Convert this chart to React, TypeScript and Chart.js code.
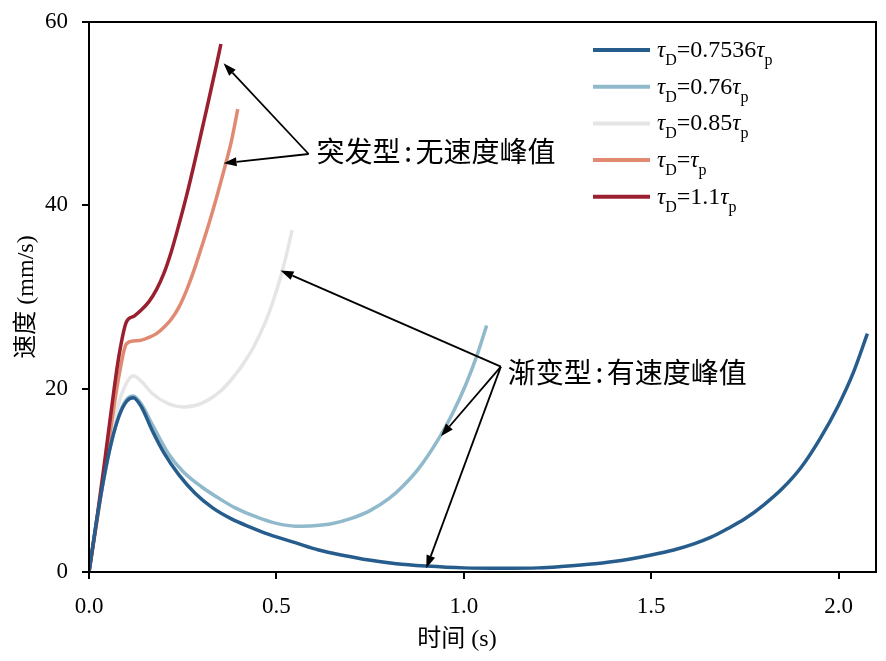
import { useEffect, useRef } from 'react';
import { Chart, registerables } from 'chart.js';

Chart.register(...registerables);

// τD = 0.7536τp
const time7536 = [0, 0.02, 0.04, 0.06, 0.08, 0.1, 0.118, 0.14, 0.168, 0.2, 0.24, 0.283, 0.33, 0.38, 0.43, 0.48, 0.55, 0.613, 0.68, 0.747, 0.82, 0.9, 1.0, 1.1, 1.2, 1.26, 1.35, 1.42, 1.5, 1.56, 1.616, 1.66, 1.705, 1.75, 1.8, 1.85, 1.9, 1.95, 2.0, 2.04, 2.077];
const speed7536 = [0, 5.5, 10.3, 14.2, 17, 18.6, 19.0, 18.0, 15.5, 13.0, 10.6, 8.6, 7.0, 5.8, 4.9, 4.1, 3.2, 2.4, 1.8, 1.3, 0.9, 0.65, 0.45, 0.4, 0.45, 0.6, 0.9, 1.25, 1.85, 2.4, 3.1, 3.8, 4.75, 5.8, 7.3, 9.1, 11.4, 14.5, 18.2, 21.8, 26.0];

// τD = 0.76τp
const time76 = [0, 0.02, 0.04, 0.06, 0.08, 0.1, 0.118, 0.14, 0.17, 0.212, 0.25, 0.3, 0.35, 0.39, 0.45, 0.5, 0.551, 0.6, 0.65, 0.7, 0.75, 0.8, 0.836, 0.88, 0.934, 0.97, 1.005, 1.035, 1.061];
const speed76 = [0, 5.5, 10.3, 14.2, 17.1, 18.8, 19.2, 18.3, 16.0, 12.9, 11.0, 9.3, 7.95, 7.0, 5.95, 5.3, 5.0, 5.05, 5.3, 5.85, 6.7, 8.0, 9.3, 11.3, 14.6, 17.3, 20.4, 23.6, 26.9];

// τD = 0.85τp
const time85 = [0, 0.02, 0.04, 0.06, 0.08, 0.1, 0.118, 0.14, 0.168, 0.21, 0.254, 0.3, 0.35, 0.38, 0.41, 0.44, 0.47, 0.49, 0.51, 0.525, 0.542];
const speed85 = [0, 5.3, 10.6, 15.0, 18.5, 20.6, 21.4, 20.8, 19.5, 18.4, 18.0, 18.4, 19.7, 21.0, 22.6, 24.6, 27.2, 29.4, 32.0, 34.3, 37.3];

// τD = τp
const time100 = [0, 0.02, 0.04, 0.06, 0.08, 0.1, 0.12, 0.14, 0.16, 0.18, 0.2, 0.22, 0.24, 0.26, 0.28, 0.3, 0.32, 0.34, 0.36, 0.38, 0.397];
const speed100 = [0, 5.2, 10.7, 16.2, 21.4, 24.9, 25.2, 25.3, 25.6, 26.0, 26.7, 27.6, 28.9, 30.7, 32.9, 35.4, 38.0, 40.8, 43.8, 47.0, 50.5];

// τD = 1.1τp
const time110 = [0, 0.02, 0.04, 0.06, 0.08, 0.1, 0.12, 0.14, 0.16, 0.18, 0.2, 0.22, 0.24, 0.26, 0.28, 0.3, 0.32, 0.34, 0.352];
const speed110 = [0, 5.5, 11.5, 17.8, 23.6, 27.3, 27.9, 28.6, 29.5, 30.8, 32.6, 35.0, 37.9, 41.0, 44.4, 48.0, 51.6, 55.3, 57.6];

const legendCoefs = ['0.7536', '0.76', '0.85', '', '1.1'];
const seriesColors = ['#265d8c', '#91b9cc', '#e6e4e4', '#e08a72', '#9a2030'];

const xTicks = [0, 0.5, 1.0, 1.5, 2.0];
const yTicks = [0, 20, 40, 60];

// annotation anchors in data units: [time, speed]
const burstLabel = '突发型:无速度峰值';
const burstFrom = [0.586, 45.6];
const burstTips = [[0.359, 55.5], [0.359, 44.6]];
const gradualLabel = '渐变型:有速度峰值';
const gradualFrom = [1.099, 22.4];
const gradualTips = [[0.511, 32.9], [0.939, 14.8], [0.9, 0.4]];

const toPoints = (t: number[], v: number[]) => t.map((x, i) => ({ x, y: v[i] }));

function drawArrow(ctx: CanvasRenderingContext2D, x0: number, y0: number, x1: number, y1: number) {
  const ang = Math.atan2(y1 - y0, x1 - x0);
  const hl = 13;
  const hw = 4.5;
  const bx = x1 - hl * Math.cos(ang);
  const by = y1 - hl * Math.sin(ang);
  ctx.beginPath();
  ctx.moveTo(x0, y0);
  ctx.lineTo(bx, by);
  ctx.stroke();
  ctx.beginPath();
  ctx.moveTo(x1, y1);
  ctx.lineTo(bx + hw * Math.sin(ang), by - hw * Math.cos(ang));
  ctx.lineTo(bx - hw * Math.sin(ang), by + hw * Math.cos(ang));
  ctx.closePath();
  ctx.fill();
}

function drawCjkLabel(ctx: CanvasRenderingContext2D, text: string, x: number, y: number) {
  const [a, b] = text.split(':');
  ctx.font = '28px "Noto Sans CJK SC"';
  ctx.textAlign = 'left';
  ctx.textBaseline = 'middle';
  ctx.fillText(a, x, y);
  let cx = x + ctx.measureText(a).width;
  const slot = 15;
  const cw = ctx.measureText(':').width;
  ctx.fillText(':', cx + (slot - cw) / 2, y);
  cx += slot;
  ctx.fillText(b, cx, y);
}

function drawTau(ctx: CanvasRenderingContext2D, x: number, base: number, sub: string) {
  ctx.font = 'italic 23px "Liberation Serif"';
  ctx.fillText('τ', x, base);
  x += ctx.measureText('τ').width;
  ctx.font = '16px "Liberation Serif"';
  ctx.fillText(sub, x, base + 8);
  return x + ctx.measureText(sub).width;
}

const overlay = {
  id: 'overlay',
  afterDraw(chart: Chart) {
    const { ctx, chartArea } = chart;
    const xs = chart.scales.x;
    const ys = chart.scales.y;
    const px = (p: number[]) => [xs.getPixelForValue(p[0]), ys.getPixelForValue(p[1])];
    ctx.save();

    // frame
    ctx.strokeStyle = '#000';
    ctx.lineWidth = 2;
    ctx.strokeRect(chartArea.left, chartArea.top, chartArea.width, chartArea.height);

    // arrows
    ctx.fillStyle = '#000';
    ctx.lineWidth = 1.8;
    const [bfx, bfy] = px(burstFrom);
    burstTips.forEach((t) => {
      const [tx, ty] = px(t);
      drawArrow(ctx, bfx, bfy, tx, ty);
    });
    const [gfx, gfy] = px(gradualFrom);
    gradualTips.forEach((t) => {
      const [tx, ty] = px(t);
      drawArrow(ctx, gfx, gfy, tx, ty);
    });

    drawCjkLabel(ctx, burstLabel, bfx + 8, bfy - 3);
    drawCjkLabel(ctx, gradualLabel, gfx + 7, gfy + 6);

    // legend
    const lineX0 = chartArea.right - 283;
    const lineX1 = chartArea.right - 226;
    legendCoefs.forEach((c, i) => {
      const rowY = chartArea.top + 28 + i * 36.7;
      ctx.strokeStyle = seriesColors[i];
      ctx.lineWidth = 4;
      ctx.beginPath();
      ctx.moveTo(lineX0, rowY);
      ctx.lineTo(lineX1, rowY);
      ctx.stroke();
      ctx.fillStyle = '#000';
      ctx.textAlign = 'left';
      ctx.textBaseline = 'alphabetic';
      const base = rowY + 7;
      let x = drawTau(ctx, lineX1 + 7, base, 'D');
      ctx.font = '24px "Liberation Serif"';
      const mid = '=' + c;
      ctx.fillText(mid, x, base);
      x += ctx.measureText(mid).width;
      drawTau(ctx, x, base, 'p');
    });

    // axis titles
    ctx.fillStyle = '#000';
    ctx.font = '24px "Liberation Serif", "Noto Sans CJK SC"';
    ctx.textAlign = 'center';
    ctx.textBaseline = 'middle';
    ctx.fillText('时间 (s)', chartArea.left + 368, chartArea.bottom + 68);
    ctx.translate(19, (chartArea.top + chartArea.bottom) / 2);
    ctx.rotate(-Math.PI / 2);
    ctx.fillText('速度 (mm/s)', 0, 0);
    ctx.restore();
  },
};

const App = () => {
  const canvasRef = useRef<HTMLCanvasElement | null>(null);
  const chartRef = useRef<Chart | null>(null);

  useEffect(() => {
    if (chartRef.current) {
      chartRef.current.destroy();
    }
    if (!canvasRef.current) return;
    const ctx = canvasRef.current.getContext('2d');
    if (!ctx) return;

    const series = [
      toPoints(time7536, speed7536),
      toPoints(time76, speed76),
      toPoints(time85, speed85),
      toPoints(time100, speed100),
      toPoints(time110, speed110),
    ];

    chartRef.current = new Chart(ctx, {
      type: 'line',
      data: {
        datasets: series.map((data, i) => ({
          label: 'τD=' + legendCoefs[i] + 'τp',
          data,
          borderColor: seriesColors[i],
          borderWidth: 3.5,
          pointRadius: 0,
          fill: false,
          cubicInterpolationMode: 'monotone' as const,
          order: i === 0 ? 0 : 5 - i,
        })),
      },
      options: {
        animation: false,
        responsive: true,
        maintainAspectRatio: false,
        layout: { padding: { top: 14, right: 2, left: 0, bottom: 0 } },
        plugins: {
          legend: { display: false },
          tooltip: { enabled: false },
        },
        scales: {
          x: {
            type: 'linear',
            min: 0,
            max: 2.1,
            afterFit: (s: any) => {
              s.height = 81;
              s.paddingLeft = 0;
              s.paddingRight = 0;
            },
            afterBuildTicks: (s: any) => { s.ticks = xTicks.map((value) => ({ value })); },
            ticks: {
              color: '#000',
              font: { family: '"Liberation Serif"', size: 23 },
              padding: 14,
              maxRotation: 0,
              callback: (v: any) => Number(v).toFixed(1),
            },
            grid: { drawOnChartArea: false, tickLength: 7, color: '#000', lineWidth: 2 },
            border: { display: true, color: '#000', width: 2 },
          },
          y: {
            type: 'linear',
            min: 0,
            max: 60,
            afterFit: (s: any) => {
              s.width = 81;
              s.paddingTop = 0;
              s.paddingBottom = 0;
            },
            afterBuildTicks: (s: any) => { s.ticks = yTicks.map((value) => ({ value })); },
            ticks: {
              color: '#000',
              font: { family: '"Liberation Serif"', size: 23 },
              padding: 14,
              callback: (v: any) => String(v),
            },
            grid: { drawOnChartArea: false, tickLength: 7, color: '#000', lineWidth: 2 },
            border: { display: true, color: '#000', width: 2 },
          },
        },
      },
      plugins: [overlay],
    });

    return () => {
      if (chartRef.current) {
        chartRef.current.destroy();
        chartRef.current = null;
      }
    };
  }, []);

  return (
    <div style={{ width: 870, height: 645, position: 'relative', background: '#fff' }}>
      <canvas ref={canvasRef} style={{ display: 'block' }} />
    </div>
  );
};

export default App;
